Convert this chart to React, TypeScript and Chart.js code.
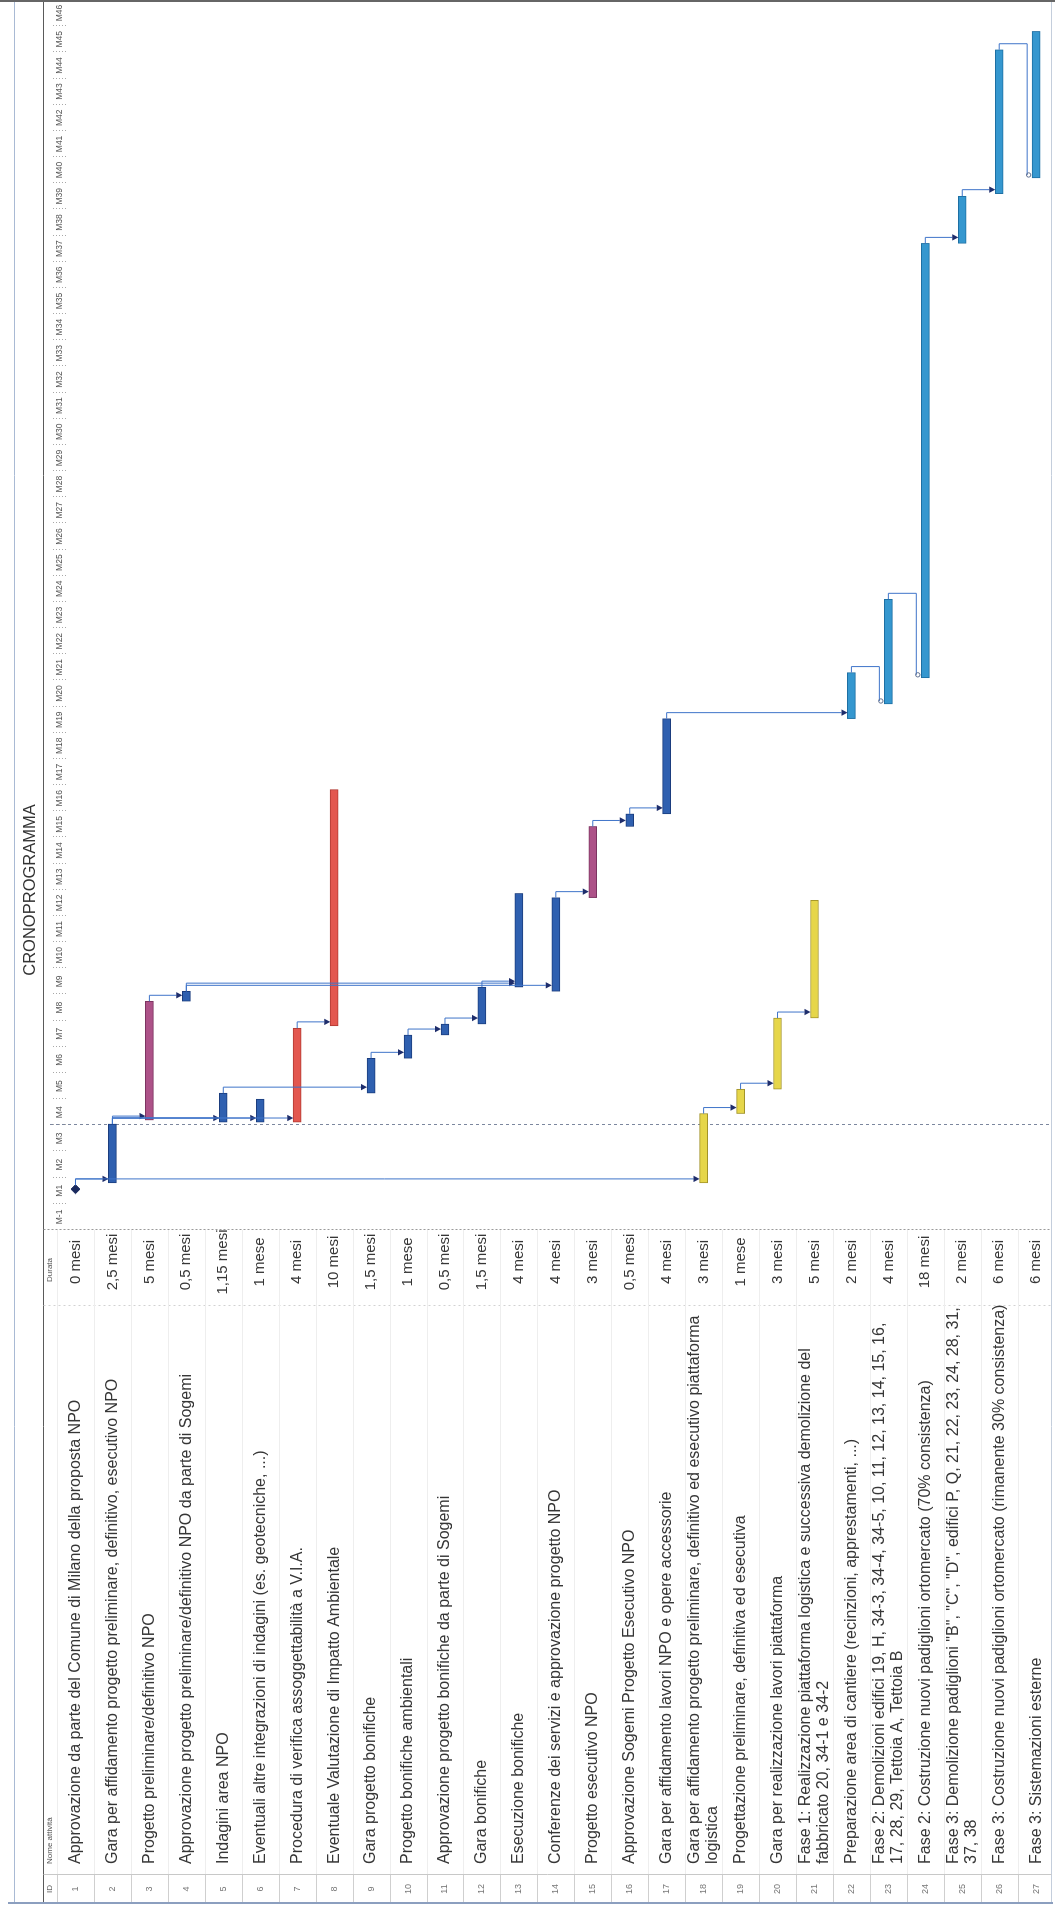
import React, { useEffect, useRef } from "react";
import { Chart, registerables } from "chart.js";

Chart.register(...registerables);

// ---------------- DATA ----------------
const taskIds = [
  1, 2, 3, 4, 5, 6, 7, 8, 9, 10, 11, 12, 13, 14, 15, 16, 17, 18, 19, 20, 21, 22, 23, 24, 25, 26, 27,
];

const taskNames: string[][] = [
  ["Approvazione da parte del Comune di Milano della proposta NPO"],
  ["Gara per affidamento progetto preliminare, definitivo, esecutivo NPO"],
  ["Progetto preliminare/definitivo NPO"],
  ["Approvazione progetto preliminare/definitivo NPO da parte di Sogemi"],
  ["Indagini area NPO"],
  ["Eventuali altre integrazioni di indagini (es. geotecniche, ...)"],
  ["Procedura di verifica assoggettabilità a V.I.A."],
  ["Eventuale Valutazione di Impatto Ambientale"],
  ["Gara progetto bonifiche"],
  ["Progetto bonifiche ambientali"],
  ["Approvazione progetto bonifiche da parte di Sogemi"],
  ["Gara bonifiche"],
  ["Esecuzione bonifiche"],
  ["Conferenze dei servizi e approvazione progetto NPO"],
  ["Progetto esecutivo NPO"],
  ["Approvazione Sogemi Progetto Esecutivo NPO"],
  ["Gara per affidamento lavori NPO e opere accessorie"],
  ["Gara per affidamento progetto preliminare, definitivo ed esecutivo piattaforma", "logistica"],
  ["Progettazione preliminare, definitiva ed esecutiva"],
  ["Gara per realizzazione lavori piattaforma"],
  ["Fase 1: Realizzazione piattaforma logistica e successiva demolizione del", "fabbricato 20, 34-1 e 34-2"],
  ["Preparazione area di cantiere (recinzioni, apprestamenti, ...)"],
  ["Fase 2: Demolizioni edifici 19, H, 34-3, 34-4, 34-5, 10, 11, 12, 13, 14, 15, 16,", "17, 28, 29, Tettoia A, Tettoia B"],
  ["Fase 2: Costruzione nuovi padiglioni ortomercato (70% consistenza)"],
  ["Fase 3: Demolizione padiglioni \"B\", \"C\", \"D\", edifici P, Q, 21, 22, 23, 24, 28, 31,", "37, 38"],
  ["Fase 3: Costruzione nuovi padiglioni ortomercato (rimanente 30% consistenza)"],
  ["Fase 3: Sistemazioni esterne"],
];

const durations = [
  "0 mesi", "2,5 mesi", "5 mesi", "0,5 mesi", "1,15 mesi", "1 mese", "4 mesi", "10 mesi",
  "1,5 mesi", "1 mese", "0,5 mesi", "1,5 mesi", "4 mesi", "4 mesi", "3 mesi", "0,5 mesi",
  "4 mesi", "3 mesi", "1 mese", "3 mesi", "5 mesi", "2 mesi", "4 mesi", "18 mesi", "2 mesi",
  "6 mesi", "6 mesi",
];

// start / end on the timescale, in months counted from the start of "M-1"
const taskStart = [
  1.56, 1.8, 4.2, 8.74, 4.12, 4.12, 4.12, 7.8, 5.23, 6.56, 7.45, 7.87, 9.28, 9.12, 12.7, 15.42,
  15.9, 1.8, 4.45, 5.38, 8.1, 19.54, 20.1, 21.1, 37.7, 39.6, 40.2,
];
const taskEnd = [
  1.56, 4.05, 8.74, 9.12, 5.23, 5.0, 7.71, 16.83, 6.56, 7.45, 7.87, 9.28, 12.86, 12.7, 15.42,
  15.9, 19.54, 4.45, 5.38, 8.1, 12.6, 21.3, 24.1, 37.7, 39.5, 45.1, 45.8,
];
const taskGroup = [
  "milestone", "blue", "pink", "blue", "blue", "blue", "red", "red", "blue", "blue", "blue",
  "blue", "blue", "blue", "pink", "blue", "blue", "yellow", "yellow", "yellow", "yellow",
  "cyan", "cyan", "cyan", "cyan", "cyan", "cyan",
];

const links: [number, number][] = [
  [1, 2], [1, 18], [2, 3], [2, 5], [2, 6], [2, 7], [3, 4], [4, 13], [4, 14], [12, 13],
  [5, 9], [9, 10], [10, 11], [11, 12], [7, 8], [14, 15], [15, 16], [16, 17], [17, 22],
  [18, 19], [19, 20], [20, 21], [22, 23], [23, 24], [24, 25], [25, 26], [26, 27],
];

const monthLabels = [
  "M-1", "M1", "M2", "M3", "M4", "M5", "M6", "M7", "M8", "M9", "M10", "M11", "M12", "M13",
  "M14", "M15", "M16", "M17", "M18", "M19", "M20", "M21", "M22", "M23", "M24", "M25", "M26",
  "M27", "M28", "M29", "M30", "M31", "M32", "M33", "M34", "M35", "M36", "M37", "M38", "M39",
  "M40", "M41", "M42", "M43", "M44", "M45", "M46",
];

const statusTime = 4.0;
const chartTitle = "CRONOPROGRAMMA";
const headerLabels = ["ID", "Nome attività", "Durata"];

// ---------------- STYLE ----------------
const FONT = "'Liberation Sans', Arial, Helvetica, sans-serif";
const groupFill: Record<string, string> = {
  blue: "#2f60b0",
  cyan: "#3597cf",
  pink: "#ad5288",
  red: "#e3574f",
  yellow: "#e6d64a",
};
const groupBorder: Record<string, string> = {
  blue: "#1b3d7e",
  cyan: "#1d6fa3",
  pink: "#7c3461",
  red: "#b23a33",
  yellow: "#a39429",
};

const ganttPlugin = {
  id: "ganttDecor",
  beforeDatasetsDraw(chart: any) {
    const { ctx, chartArea } = chart;
    const xs = chart.scales.x;
    const ys = chart.scales.y;
    const W = chart.width;
    const H = chart.height;
    const gl = chartArea.left;
    const seg = (x1: number, y1: number, x2: number, y2: number) => {
      ctx.beginPath();
      ctx.moveTo(x1, y1);
      ctx.lineTo(x2, y2);
      ctx.stroke();
    };
    ctx.save();

    // frame lines
    ctx.lineWidth = 1;
    ctx.strokeStyle = "#a9bad4";
    seg(12, 14.5, W, 14.5);
    ctx.strokeStyle = "#5a5a5a";
    seg(12, 43.5, W, 43.5);
    ctx.strokeStyle = "#c4cedc";
    seg(12, H - 3.5, W, H - 3.5);
    ctx.lineWidth = 2;
    ctx.strokeStyle = "#8c9fbf";
    seg(11, 8, 11, H - 2);
    ctx.strokeStyle = "#666";
    seg(W - 1, 0, W - 1, H);

    // table columns
    ctx.lineWidth = 1;
    ctx.strokeStyle = "#c8c8c8";
    seg(39.5, 43.5, 39.5, H - 3.5);
    ctx.setLineDash([2, 3]);
    ctx.strokeStyle = "#d2d2d2";
    seg(608.5, 43.5, 608.5, H - 3.5);
    ctx.strokeStyle = "#9a9a9a";
    ctx.setLineDash([2, 2]);
    seg(gl + 0.5, 43.5, gl + 0.5, H - 3.5);
    ctx.setLineDash([]);

    // row separators in the table
    for (let i = 1; i <= taskIds.length; i++) {
      const v = Math.round(ys.getPixelForValue(i - 0.5)) + 0.5;
      ctx.strokeStyle = "#cfcfcf";
      seg(12, v, 39, v);
      ctx.strokeStyle = "#eeeeee";
      seg(40, v, gl, v);
    }

    // table header
    ctx.fillStyle = "#555";
    ctx.textBaseline = "middle";
    ctx.font = `8px ${FONT}`;
    ctx.textAlign = "center";
    ctx.fillText(headerLabels[0], 25, 50);
    ctx.textAlign = "left";
    ctx.fillText(headerLabels[1], 50, 50);
    ctx.textAlign = "center";
    ctx.fillText(headerLabels[2], 644, 50);

    // rows
    taskIds.forEach((id, k) => {
      const v = ys.getPixelForValue(id);
      ctx.fillStyle = "#777";
      ctx.font = `9px ${FONT}`;
      ctx.textAlign = "center";
      ctx.fillText(String(id), 25, v);
      ctx.fillStyle = "#363636";
      ctx.font = `16px ${FONT}`;
      ctx.textAlign = "left";
      const lines = taskNames[k];
      if (lines.length === 1) {
        ctx.fillText(lines[0], 50, v);
      } else {
        ctx.fillText(lines[0], 50, v - 9);
        ctx.fillText(lines[1], 50, v + 9);
      }
      ctx.font = `15px ${FONT}`;
      ctx.textAlign = "center";
      ctx.fillText(durations[k], 652, v);
    });

    // title
    ctx.fillStyle = "#333";
    ctx.font = `16.5px ${FONT}`;
    ctx.textAlign = "center";
    ctx.fillText(chartTitle, 1024, 30);

    // month scale
    ctx.font = `8.5px ${FONT}`;
    ctx.fillStyle = "#555";
    monthLabels.forEach((lab, k) => {
      ctx.fillText(lab, xs.getPixelForValue(k + 0.5), 60);
    });
    ctx.strokeStyle = "#a8a8a8";
    ctx.setLineDash([1, 2]);
    for (let k = 1; k < monthLabels.length; k++) {
      const u = Math.round(xs.getPixelForValue(k)) + 0.5;
      seg(u, 53, u, 67);
    }

    // status date line
    ctx.strokeStyle = "#7c879e";
    ctx.setLineDash([3, 3]);
    const su = Math.round(xs.getPixelForValue(statusTime)) + 0.5;
    seg(su, 50, su, H - 3);
    ctx.setLineDash([]);
    ctx.restore();
  },
  afterDatasetsDraw(chart: any) {
    const { ctx } = chart;
    const xs = chart.scales.x;
    const ys = chart.scales.y;
    ctx.save();
    ctx.lineWidth = 1;
    const arrowDown = (x: number, tipY: number) => {
      ctx.fillStyle = "#1e2d6b";
      ctx.beginPath();
      ctx.moveTo(x, tipY);
      ctx.lineTo(x - 3.2, tipY - 6);
      ctx.lineTo(x + 3.2, tipY - 6);
      ctx.closePath();
      ctx.fill();
    };
    links.forEach(([a, b]) => {
      const ia = a - 1;
      const ib = b - 1;
      let xe = xs.getPixelForValue(taskEnd[ia]);
      if (taskGroup[ia] === "milestone") xe += 4;
      const xsB = xs.getPixelForValue(taskStart[ib]);
      const ya = ys.getPixelForValue(a);
      const yb = ys.getPixelForValue(b);
      ctx.strokeStyle = "#3f74c9";
      ctx.beginPath();
      if (xsB + 4 >= xe) {
        const xt = Math.max(xe + 6, xsB + 4);
        ctx.moveTo(xe, ya);
        ctx.lineTo(xt, ya);
        ctx.lineTo(xt, yb - 10);
        ctx.stroke();
        arrowDown(xt, yb - 4);
      } else {
        const xt = xe + 6;
        const yh = yb - 9;
        ctx.moveTo(xe, ya);
        ctx.lineTo(xt, ya);
        ctx.lineTo(xt, yh);
        ctx.lineTo(xsB + 3, yh);
        ctx.stroke();
        ctx.beginPath();
        ctx.strokeStyle = "#5f6f8f";
        ctx.arc(xsB + 3, yh + 1.5, 2.2, 0, Math.PI * 2);
        ctx.stroke();
      }
    });
    ctx.restore();
  },
};

export default function App() {
  const canvasRef = useRef<HTMLCanvasElement | null>(null);

  useEffect(() => {
    const canvas = canvasRef.current;
    if (!canvas) return;
    const barIdx = taskIds.filter((_, k) => taskGroup[k] !== "milestone");
    const barData = barIdx.map((id) => ({ x: [taskStart[id - 1], taskEnd[id - 1]], y: id }));
    const msData = taskIds
      .filter((_, k) => taskGroup[k] === "milestone")
      .map((id) => ({ x: taskStart[id - 1], y: id }));

    const chart = new Chart(canvas, {
      type: "bar",
      data: {
        datasets: [
          {
            type: "bar",
            data: barData as any,
            backgroundColor: barIdx.map((id) => groupFill[taskGroup[id - 1]]),
            borderColor: barIdx.map((id) => groupBorder[taskGroup[id - 1]]),
            borderWidth: 1,
            borderSkipped: false,
            barThickness: 8,
          } as any,
          {
            type: "scatter",
            data: msData as any,
            pointStyle: "rectRot",
            pointRadius: 4.5,
            backgroundColor: "#1a2a5e",
            borderColor: "#1a2a5e",
          } as any,
        ],
      },
      options: {
        indexAxis: "y",
        responsive: false,
        maintainAspectRatio: false,
        animation: false,
        layout: { padding: { left: 684, right: 0, top: 66, bottom: 0 }, autoPadding: false },
        scales: {
          x: { type: "linear", min: 0, max: 47, offset: false, display: false },
          y: {
            type: "linear",
            min: 0.743,
            max: 27.51,
            reverse: true,
            offset: false,
            display: false,
          },
        },
        plugins: {
          legend: { display: false },
          tooltip: { enabled: false },
        },
      },
      plugins: [ganttPlugin],
    } as any);
    return () => chart.destroy();
  }, []);

  return (
    <div
      style={{
        position: "absolute",
        left: 0,
        top: 0,
        width: 1055,
        height: 1914,
        overflow: "hidden",
        background: "#ffffff",
      }}
    >
      <div
        style={{
          position: "absolute",
          left: 0,
          top: 0,
          width: 1914,
          height: 1055,
          transformOrigin: "0 0",
          transform: "translate(0px, 1914px) rotate(-90deg)",
        }}
      >
        <canvas
          ref={canvasRef}
          width={1914}
          height={1055}
          style={{ display: "block", width: 1914, height: 1055 }}
        />
      </div>
    </div>
  );
}
